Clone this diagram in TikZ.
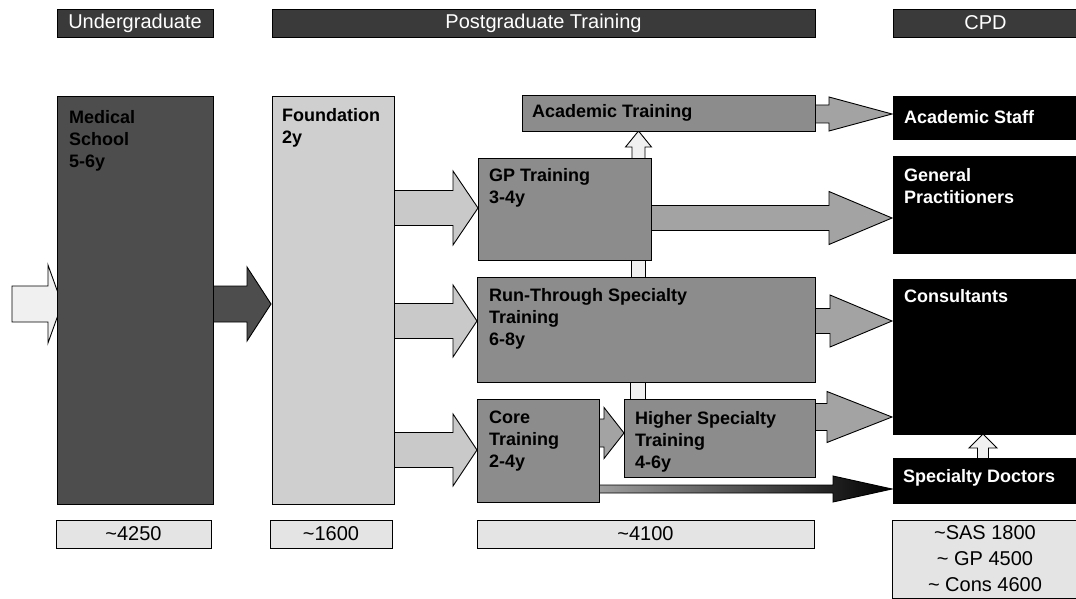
\documentclass[tikz,border=0pt]{standalone}
\usepackage{fontspec}
\setmainfont{Liberation Sans}
\definecolor{hdr}{HTML}{3A3A3A}
\definecolor{medc}{HTML}{4D4D4D}
\definecolor{fnd}{HTML}{CFCFCF}
\definecolor{midc}{HTML}{8C8C8C}
\definecolor{arrc}{HTML}{A3A3A3}
\definecolor{farr}{HTML}{C9C9C9}
\definecolor{numc}{HTML}{E4E4E4}
\definecolor{pale}{HTML}{F0F0F0}
% block arrow: style, x tail, x head base, x tip, y centre, body half, head half
\newcommand{\barr}[7]{\path[arrowshape,#1] (#2,{#5-#6}) -- (#3,{#5-#6}) -- (#3,{#5-#7}) -- (#4,#5) -- (#3,{#5+#7}) -- (#3,{#5+#6}) -- (#2,{#5+#6}) -- cycle;}
% up arrow: x centre, y bottom, y head base, y top, body half, head half
\newcommand{\uarr}[6]{\path[arrowshape,fill=pale] ({#1-#5},#2) -- ({#1-#5},#3) -- ({#1-#6},#3) -- (#1,#4) -- ({#1+#6},#3) -- ({#1+#5},#3) -- ({#1+#5},#2) -- cycle;}
\begin{document}
\begin{tikzpicture}[x=1pt,y=-1pt,
  arrowshape/.style={draw=black,line width=0.9pt,line join=miter},
  box/.style={draw=black,line width=0.9pt,inner sep=0pt,outer sep=0pt,anchor=north west},
  hbox/.style={box,fill=hdr,text=white,font=\fontsize{20}{24}\selectfont},
  gbox/.style={box,fill=midc},
  kbox/.style={box,fill=black},
  nbox/.style={box,fill=numc,font=\fontsize{20}{26}\selectfont,align=center},
  lbl/.style={font=\bfseries\fontsize{18}{22}\selectfont,align=left,inner sep=0pt,anchor=north west},
  wlbl/.style={lbl,text=white}]
\useasboundingbox (0,0) rectangle (1076,599);

% ---- block arrows (drawn first, boxes cover their ends)
\barr{fill=pale}{12}{48}{62}{304}{18}{39}
\barr{fill=medc}{200}{247}{271}{304}{18}{37}
\barr{fill=farr}{385}{453}{478}{208}{17.5}{37}
\barr{fill=farr}{385}{453}{477}{321}{17.5}{36}
\barr{fill=farr}{385}{453}{477}{450}{17.5}{36}
\barr{fill=arrc}{805}{829}{892}{114}{9}{17}
\barr{fill=arrc}{640}{829}{892}{218}{12.5}{26.5}
\barr{fill=arrc}{805}{830}{892}{321}{12.5}{26}
\barr{fill=arrc}{805}{827}{892}{417}{13.5}{25.5}
\barr{fill=arrc}{590}{604}{624}{433}{14}{25.5}
\barr{left color=arrc,right color=black}{590}{833}{892}{489}{4}{13}
\uarr{638.5}{165}{147}{131}{6.5}{13}
\uarr{983}{465}{448}{434}{5.5}{14}
\path[arrowshape,fill=pale] (631,255) rectangle (645,282);
\path[arrowshape,fill=pale] (630,377) rectangle (645,404);

% ---- headers
\node[hbox,minimum width=156pt,minimum height=28pt] (hUG) at (57,9) {Undergraduate};
\node[hbox,minimum width=543pt,minimum height=28pt] (hPG) at (272,9) {Postgraduate Training};
\node[hbox,minimum width=185pt,minimum height=28pt] (hCPD) at (893,9) {CPD};

% ---- stage boxes
\node[box,fill=medc,minimum width=156pt,minimum height=408pt] (med) at (57,96) {};
\node[box,fill=fnd,minimum width=122pt,minimum height=408pt] (found) at (272,96) {};
\node[gbox,minimum width=293pt,minimum height=36pt] (acad) at (522,95) {};
\node[gbox,minimum width=173pt,minimum height=102pt] (gp) at (478,158) {};
\node[gbox,minimum width=338pt,minimum height=105pt] (run) at (477,277) {};
\node[gbox,minimum width=122pt,minimum height=103pt] (core) at (477,399) {};
\node[gbox,minimum width=191pt,minimum height=78pt] (higher) at (624,399) {};

% ---- CPD boxes
\node[kbox,minimum width=185pt,minimum height=43pt] (staff) at (893,96) {};
\node[kbox,minimum width=185pt,minimum height=97pt] (gpr) at (893,156) {};
\node[kbox,minimum width=185pt,minimum height=155pt] (cons) at (893,279) {};
\node[kbox,minimum width=185pt,minimum height=45pt] (sd) at (893,458) {};

% ---- labels
\node[lbl] (medT) at ([shift={(12,14)}]med.north west) {Medical\\School\\5-6y};
\node[lbl] (foundT) at ([shift={(10,12)}]found.north west) {Foundation\\2y};
\node[lbl,anchor=west] (acadT) at ([shift={(10,0)}]acad.west) {Academic Training};
\node[lbl] (gpT) at ([shift={(11,10)}]gp.north west) {GP Training\\3-4y};
\node[lbl] (runT) at ([shift={(12,11)}]run.north west) {Run-Through Specialty\\Training\\6-8y};
\node[lbl] (coreT) at ([shift={(12,12)}]core.north west) {Core\\Training\\2-4y};
\node[lbl] (higherT) at ([shift={(11,12)}]higher.north west) {Higher Specialty\\Training\\4-6y};
\node[wlbl,anchor=west] (staffT) at ([shift={(11,0)}]staff.west) {Academic Staff};
\node[wlbl] (gprT) at ([shift={(11,12)}]gpr.north west) {General\\Practitioners};
\node[wlbl] (consT) at ([shift={(11,10)}]cons.north west) {Consultants};
\node[wlbl,anchor=west] (sdT) at ([shift={(10,-3)}]sd.west) {Specialty Doctors};

% ---- numbers
\node[nbox,minimum width=155pt,minimum height=28pt] (n1) at (56,520) {\textasciitilde4250};
\node[nbox,minimum width=122pt,minimum height=28pt] (n2) at (270,520) {\textasciitilde1600};
\node[nbox,minimum width=337pt,minimum height=28pt] (n3) at (477,520) {\textasciitilde4100};
\node[nbox,minimum width=186pt,minimum height=78pt] (n4) at (892,520) {\textasciitilde SAS 1800\\\textasciitilde\ GP 4500\\\textasciitilde\ Cons 4600};
\end{tikzpicture}
\end{document}
